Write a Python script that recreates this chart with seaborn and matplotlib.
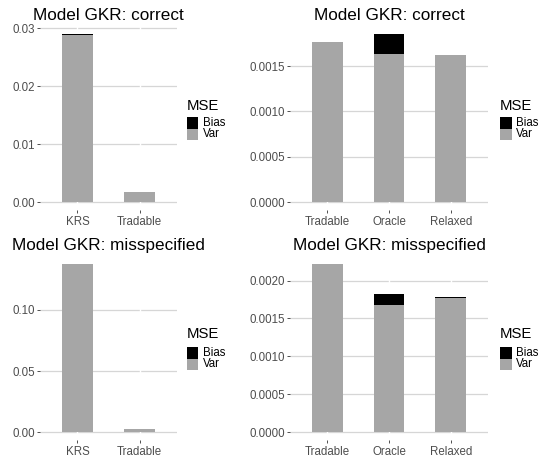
import numpy as np
import pandas as pd
import matplotlib
matplotlib.use("Agg")
import matplotlib.pyplot as plt
from matplotlib.patches import Rectangle
from matplotlib.ticker import FormatStrFormatter
import seaborn as sns

# ---- data ----
titles = ["Model GKR: correct", "Model GKR: correct",
          "Model GKR: misspecified", "Model GKR: misspecified"]

methods_left = ["KRS", "Tradable"]
methods_right = ["Tradable", "Oracle", "Relaxed"]

var_p1 = [0.0288, 0.00178]
bias_p1 = [0.00017, 0.0]

var_p2 = [0.00177, 0.00163, 0.00162]
bias_p2 = [0.0, 0.000226, 0.0]

var_p3 = [0.1377, 0.0022]
bias_p3 = [0.0, 0.0006]

var_p4 = [0.00222, 0.00168, 0.001775]
bias_p4 = [0.0, 0.000148, 0.000014]

yticks_p1 = [0.00, 0.01, 0.02, 0.03]
yticks_p2 = [0.0000, 0.0005, 0.0010, 0.0015]
yticks_p3 = [0.00, 0.05, 0.10]
yticks_p4 = [0.0000, 0.0005, 0.0010, 0.0015, 0.0020]

legend_title = "MSE"
legend_labels = ["Bias", "Var"]

# ---- style ----
sns.set_style("white")
plt.rcParams["font.family"] = ["Liberation Sans", "DejaVu Sans"]

VAR_COLOR = "#a6a6a6"
BIAS_COLOR = "#000000"
legend_colors = [BIAS_COLOR, VAR_COLOR]

W, H = 540, 457
fig = plt.figure(figsize=(W / 100, H / 100), dpi=100)

top_b, bot_b, h = 0.5396, 0.0363, 0.4044
left_x, left_w = 0.0741, 0.2537
right_x, right_w = 0.5370, 0.3667

# legend placement in figure pixels: (x, title baseline y, first key top y)
leg_pos = [(187, 110, 117), (500, 110, 117),
           (187, 338, 347), (500, 338, 347)]
KEY = 11.5

panels = [
    (methods_left, var_p1, bias_p1, yticks_p1, "%.2f", [left_x, top_b, left_w, h]),
    (methods_right, var_p2, bias_p2, yticks_p2, "%.4f", [right_x, top_b, right_w, h]),
    (methods_left, var_p3, bias_p3, yticks_p3, "%.2f", [left_x, bot_b, left_w, h]),
    (methods_right, var_p4, bias_p4, yticks_p4, "%.4f", [right_x, bot_b, right_w, h]),
]

for (methods, var, bias, yt, fmt, rect), title, lp in zip(panels, titles, leg_pos):
    ax = fig.add_axes(rect)
    df = pd.DataFrame({"method": methods, "var": var, "bias": bias})
    sns.barplot(data=df, x="method", y="var", order=methods, color=VAR_COLOR,
                saturation=1, width=0.5, errorbar=None, linewidth=0, ax=ax,
                zorder=2)
    sns.barplot(data=df, x="method", y="bias", order=methods, color=BIAS_COLOR,
                saturation=1, width=0.5, errorbar=None, linewidth=0, ax=ax,
                bottom=np.asarray(var), zorder=2)
    total = (df["var"] + df["bias"]).max()
    ax.set_ylim(-0.05 * total, 1.05 * total)
    ax.set_xlim(-0.6, len(methods) - 1 + 0.6)
    ax.set_yticks(yt)
    ax.yaxis.set_major_formatter(FormatStrFormatter(fmt))
    ax.set_xlabel("")
    ax.set_ylabel("")
    for s in ax.spines.values():
        s.set_visible(False)
    ax.set_axisbelow(True)
    ax.yaxis.grid(True, color="#d6d6d6", linewidth=0.9, zorder=0.5)
    ax.xaxis.grid(False)
    for xt in ax.get_xticks():
        ax.axvline(xt, color="white", linewidth=1.0, zorder=0.8)
    ax.tick_params(axis="both", bottom=True, left=True, length=2.5, width=0.6,
                   color="#333333", labelcolor="#4d4d4d", labelsize=8.3, pad=1.2)
    ax.set_title(title, fontsize=12.3, pad=4, color="black")

    # legend (title, keys, labels) drawn in figure pixel coordinates
    lx, ty, ky = lp
    fig.text(lx / W, 1 - ty / H, legend_title, fontsize=10.7, color="black",
             ha="left", va="baseline")
    for i, (lab, col) in enumerate(zip(legend_labels, legend_colors)):
        top = ky + i * KEY
        fig.add_artist(Rectangle((lx / W, 1 - (top + KEY) / H), KEY / W, KEY / H,
                                 transform=fig.transFigure, facecolor=col,
                                 edgecolor="none"))
        fig.text((lx + KEY + 4.5) / W, 1 - (top + KEY / 2) / H, lab,
                 fontsize=8.3, color="black", ha="left", va="center")

fig.savefig("out.png", dpi=100, facecolor="white")
